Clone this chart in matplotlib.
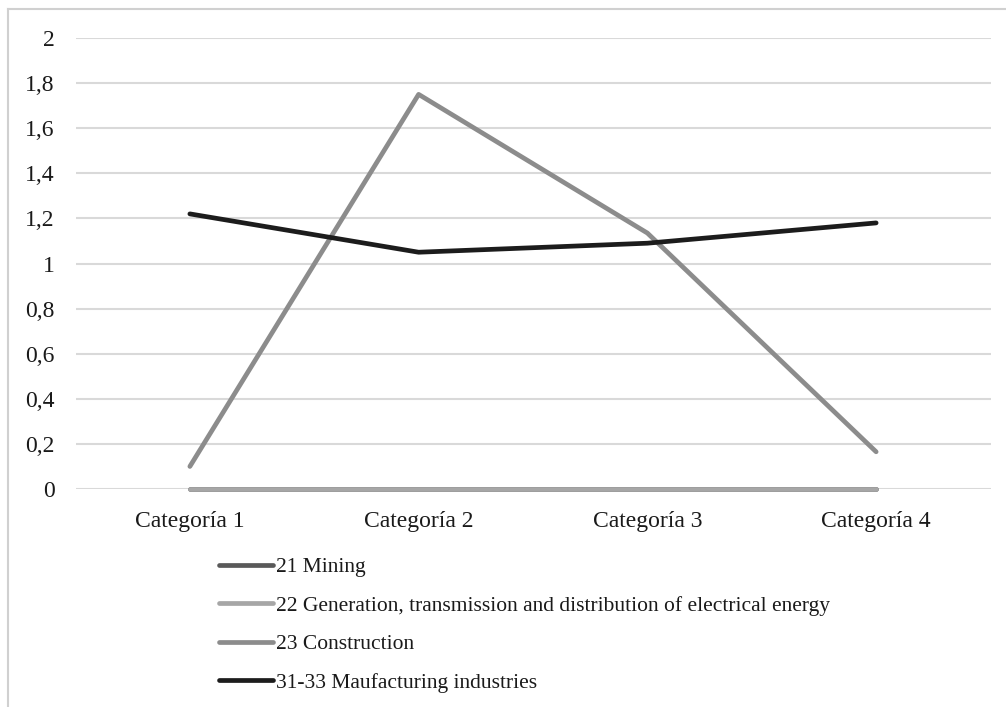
import numpy as np
import matplotlib.pyplot as plt
from matplotlib.lines import Line2D

# Data
categories = ['Categoría 1', 'Categoría 2', 'Categoría 3', 'Categoría 4']
mining = [0, 0, 0, 0]
generation = [0, 0, 0, 0]
construction = [0.10, 1.75, 1.135, 0.165]
manufacturing = [1.22, 1.05, 1.09, 1.18]

series_names = ['21 Mining',
                '22 Generation, transmission and distribution of electrical energy',
                '23 Construction',
                '31-33 Maufacturing industries']

plt.rcParams['font.family'] = ['Liberation Serif', 'DejaVu Serif']

fig = plt.figure(figsize=(10.06, 7.07), dpi=100)
W, H = 1006, 707
ax = fig.add_axes([75.5 / W, (H - 489) / H, 915 / W, 451 / H])

x = np.arange(len(categories))
lw = 3.4
ax.plot(x, mining, color='#595959', lw=lw, solid_capstyle='round', clip_on=False, label=series_names[0])
ax.plot(x, generation, color='#a6a6a6', lw=lw, solid_capstyle='round', clip_on=False, label=series_names[1])
ax.plot(x, construction, color='#8c8c8c', lw=lw, solid_capstyle='round', clip_on=False, label=series_names[2])
ax.plot(x, manufacturing, color='#1c1c1c', lw=lw, solid_capstyle='round', clip_on=False, label=series_names[3])

ax.set_xlim(-0.5, len(categories) - 0.5)
ax.set_ylim(0, 2)
yt = np.arange(0, 2.01, 0.2)
ax.set_yticks(yt)
ax.set_yticklabels([('%.1f' % v).replace('.', ',').replace(',0', '') for v in yt])
ax.set_xticks(x)
ax.set_xticklabels(categories)
ax.tick_params(length=0, labelsize=17, colors='#1a1a1a')
ax.tick_params(axis='y', pad=15)
ax.tick_params(axis='x', pad=16)
ax.grid(axis='y', color='#d9d9d9', lw=1.5)
ax.set_axisbelow(True)
for s in ax.spines.values():
    s.set_visible(False)

fig.legend(loc='upper left', bbox_to_anchor=(219 / W, (H - 557) / H),
           frameon=False, fontsize=15.5, handlelength=2.5, handletextpad=0.15,
           labelspacing=0.86, borderpad=0, borderaxespad=0, labelcolor='#1a1a1a')

# outer chart border (top and left only visible)
fig.add_artist(Line2D([8 / W, 1], [(H - 9) / H, (H - 9) / H], color='#d0d0d0', lw=1.5))
fig.add_artist(Line2D([8 / W, 8 / W], [0, (H - 9) / H], color='#d0d0d0', lw=1.5))

fig.savefig('out.png', dpi=100)
